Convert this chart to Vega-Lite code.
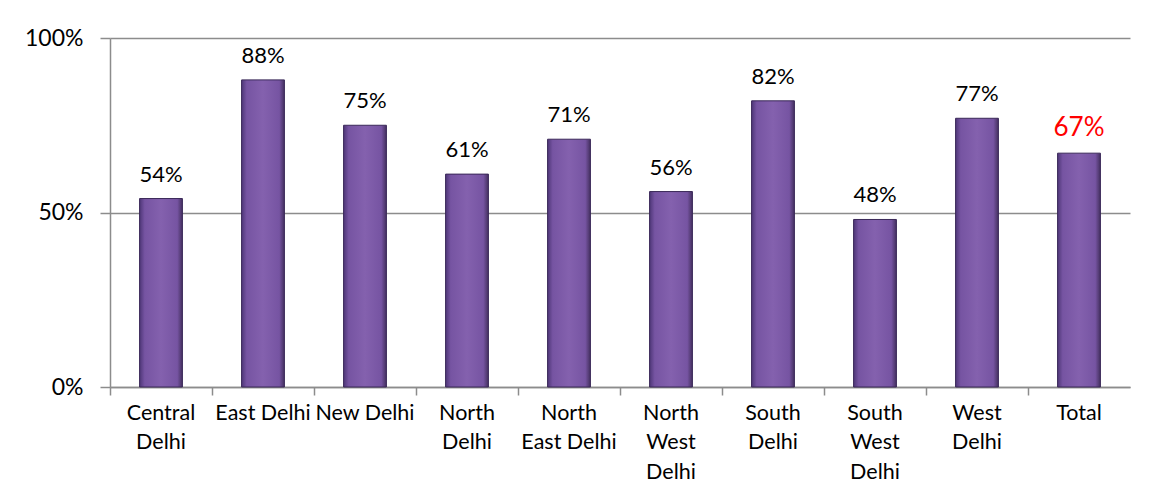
{
  "$schema": "https://vega.github.io/schema/vega-lite/v6.json",
  "width": 1020,
  "height": 349,
  "autosize": "none",
  "padding": {"left": 110, "top": 38, "right": 28, "bottom": 117},
  "background": "white",
  "config": {"view": {"stroke": null}, "font": "Lato"},
  "data": {
    "values": [
      {"district": "Central Delhi", "share": 0.54},
      {"district": "East Delhi", "share": 0.88},
      {"district": "New Delhi", "share": 0.75},
      {"district": "North Delhi", "share": 0.61},
      {"district": "North East Delhi", "share": 0.71},
      {"district": "North West Delhi", "share": 0.56},
      {"district": "South Delhi", "share": 0.82},
      {"district": "South West Delhi", "share": 0.48},
      {"district": "West Delhi", "share": 0.77},
      {"district": "Total", "share": 0.67}
    ]
  },
  "encoding": {
    "x": {
      "field": "district",
      "type": "nominal",
      "sort": null,
      "scale": {"paddingInner": 0, "paddingOuter": 0},
      "axis": {
        "title": null,
        "labelAngle": 0,
        "bandPosition": 0,
        "ticks": true,
        "tickSize": 8,
        "tickColor": "#8c8c8c",
        "tickWidth": 1.5,
        "domainColor": "#8c8c8c",
        "domainWidth": 1.5,
        "labelFontSize": 21.5,
        "labelColor": "#000000",
        "labelLineHeight": 29.5,
        "labelPadding": 7,
        "labelBaseline": "top",
        "labelExpr": "datum.label == 'East Delhi' || datum.label == 'New Delhi' ? datum.label : datum.label == 'North East Delhi' ? ['North', 'East Delhi'] : split(datum.label, ' ')"
      }
    }
  },
  "layer": [
    {
      "mark": {
        "type": "bar",
        "width": {"band": 0.42},
        "color": {
          "x1": 0, "y1": 0, "x2": 1, "y2": 0,
          "gradient": "linear",
          "stops": [
            {"offset": 0, "color": "#4e3677"},
            {"offset": 0.12, "color": "#7654a2"},
            {"offset": 0.5, "color": "#8461ae"},
            {"offset": 0.88, "color": "#7654a2"},
            {"offset": 1, "color": "#44305f"}
          ]
        },
        "stroke": "#3a2858",
        "strokeWidth": 1
      },
      "encoding": {
        "y": {
          "field": "share",
          "type": "quantitative",
          "scale": {"domain": [0, 1]},
          "axis": {
            "title": null,
            "values": [0, 0.5, 1],
            "format": ".0%",
            "grid": true,
            "gridColor": "#8c8c8c",
            "gridWidth": 1.5,
            "domainColor": "#8c8c8c",
            "domainWidth": 1.5,
            "tickColor": "#8c8c8c",
            "tickWidth": 1.5,
            "tickSize": 10,
            "labelPadding": 17,
            "labelFontSize": 23,
            "labelColor": "#000000"
          }
        }
      }
    },
    {
      "mark": {"type": "text", "baseline": "bottom", "dy": -12},
      "encoding": {
        "y": {"field": "share", "type": "quantitative"},
        "text": {"field": "share", "type": "quantitative", "format": ".0%"},
        "size": {
          "condition": {"test": "datum.district == 'Total'", "value": 26},
          "value": 22
        },
        "color": {
          "condition": {"test": "datum.district == 'Total'", "value": "#ff0000"},
          "value": "#000000"
        }
      }
    }
  ]
}
